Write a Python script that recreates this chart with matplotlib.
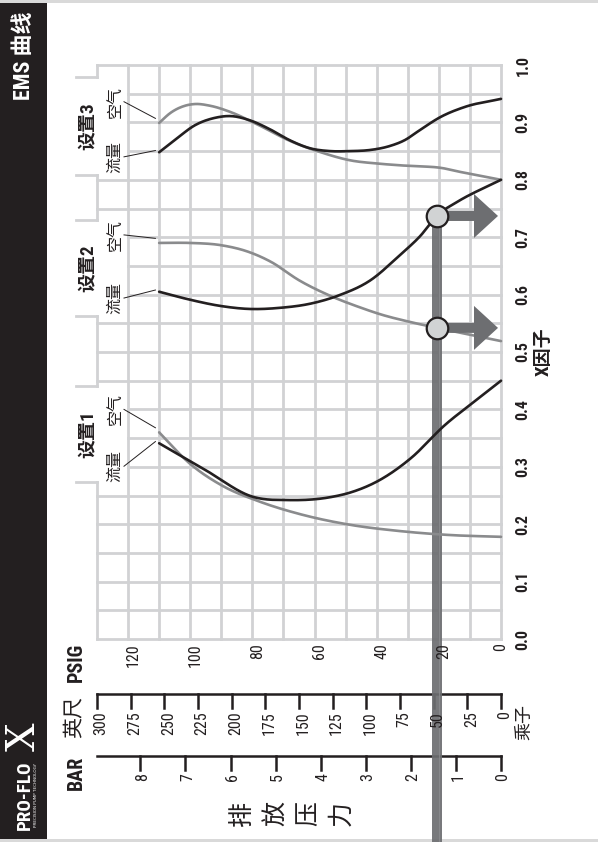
import numpy as np
import matplotlib
matplotlib.use("Agg")
import matplotlib.pyplot as plt
from matplotlib import font_manager as fm
from matplotlib.patches import FancyArrow, Rectangle

# ---------------- data ----------------
x_ticks = [0.0, 0.1, 0.2, 0.3, 0.4, 0.5, 0.6, 0.7, 0.8, 0.9, 1.0]
x_tick_labels = ["0.0", "0.1", "0.2", "0.3", "0.4", "0.5", "0.6", "0.7", "0.8", "0.9", "1.0"]
psig_ticks = [0, 20, 40, 60, 80, 100, 120]
feet_ticks = [0, 25, 50, 75, 100, 125, 150, 175, 200, 225, 250, 275, 300]
bar_ticks = [0, 1, 2, 3, 4, 5, 6, 7, 8]

set_names = ["设置1", "设置2", "设置3"]

set1_flow_psig = [110, 95, 80, 68, 55, 48, 39, 29, 18, 8, 0]
set1_flow_x = [0.341, 0.294, 0.248, 0.242, 0.247, 0.256, 0.277, 0.315, 0.373, 0.416, 0.45]
set1_air_psig = [110, 100, 90, 77.5, 65, 48.6, 32.5, 16, 0]
set1_air_x = [0.36, 0.305, 0.268, 0.239, 0.218, 0.199, 0.188, 0.181, 0.178]

set2_flow_psig = [110, 100, 90, 81, 71, 61.5, 52, 42, 32.5, 26, 20.6, 13, 7, 0]
set2_flow_x = [0.605, 0.591, 0.580, 0.575, 0.577, 0.584, 0.599, 0.625, 0.669, 0.702, 0.737, 0.765, 0.782, 0.80]
set2_air_psig = [110, 100, 90, 81, 74, 65, 55, 45, 39, 29, 20.6, 10, 0]
set2_air_x = [0.69, 0.69, 0.686, 0.674, 0.657, 0.625, 0.598, 0.577, 0.566, 0.552, 0.542, 0.530, 0.519]

set3_flow_psig = [110, 105, 98.5, 92, 87, 81, 74, 68, 61.5, 55, 48.6, 42, 35.7, 31, 26, 19.6, 11.6, 0]
set3_flow_x = [0.848, 0.869, 0.895, 0.908, 0.911, 0.904, 0.887, 0.869, 0.855, 0.850, 0.850, 0.852,
               0.859, 0.869, 0.887, 0.909, 0.927, 0.941]
set3_air_psig = [110, 106.5, 101.7, 98.5, 93.6, 87, 77.5, 68, 58, 48.6, 39, 29, 19.6, 11.6, 0]
set3_air_x = [0.899, 0.916, 0.929, 0.932, 0.929, 0.918, 0.894, 0.868, 0.848, 0.834, 0.828, 0.824,
              0.821, 0.812, 0.80]

marker_psig = 20.6

PSI_PER_FOOT = 130.0 / 300.0
PSI_PER_BAR = 14.5038

# ---------------- fonts ----------------
names = {f.name for f in fm.fontManager.ttflist}
cond_name, cond_stretch = "DejaVu Sans", "normal"
for n in ["Roboto Condensed", "Liberation Sans Narrow", "Open Sans Condensed", "Noto Sans Condensed",
          "DejaVu Sans Condensed"]:
    if n in names:
        cond_name = n
        break
else:
    for f in fm.fontManager.ttflist:
        if "condensed" in str(f.stretch).lower() and f.name in ("DejaVu Sans", "Noto Sans", "Open Sans", "Roboto"):
            cond_name, cond_stretch = f.name, "condensed"
            break
CJK = "Noto Sans CJK SC"
COND = dict(family=[cond_name, CJK, "DejaVu Sans"], fontstretch=cond_stretch)
CJKF = dict(family=[CJK, "DejaVu Sans"])

# ---------------- layout helpers (pixel -> data) ----------------
W, H = 598, 842
GX0, GX1 = 97, 501      # pixel x of PSIG 130 and 0
GY0, GY1 = 639, 65      # pixel y of X 0.0 and 1.0


def fx(px):
    return 130.0 * (GX1 - px) / (GX1 - GX0)


def fy(py):
    return (GY0 - py) / (GY0 - GY1)


def dpx(px):
    return -px * 130.0 / (GX1 - GX0)


def fs(px):
    return px * 0.72


def smooth(p, x, n=400):
    p = np.asarray(p, float)
    x = np.asarray(x, float)
    o = np.argsort(p)
    p, x = p[o], x[o]
    m = np.gradient(x, p)
    pp = np.linspace(p[0], p[-1], n)
    i = np.clip(np.searchsorted(p, pp) - 1, 0, len(p) - 2)
    h = p[i + 1] - p[i]
    t = (pp - p[i]) / h
    h00 = 2 * t**3 - 3 * t**2 + 1
    h10 = t**3 - 2 * t**2 + t
    h01 = -2 * t**3 + 3 * t**2
    h11 = t**3 - t**2
    y = h00 * x[i] + h10 * h * m[i] + h01 * x[i + 1] + h11 * h * m[i + 1]
    return pp, y


BLACK = "#231f20"
GRAYLINE = "#8a8b8d"
GRID = "#d1d2d4"
ARROW = "#6d6e71"

fig = plt.figure(figsize=(W / 100, H / 100), dpi=100)
ax = fig.add_axes([0, 0, 1, 1])
ax.set_xlim(fx(0), fx(W))
ax.set_ylim(fy(H), fy(0))
ax.axis("off")

# page borders and black band
ax.add_patch(Rectangle((fx(0), fy(3)), fx(W) - fx(0), fy(0) - fy(3), color="#d9d9d9", lw=0, zorder=0))
ax.add_patch(Rectangle((fx(0), fy(H)), fx(W) - fx(0), fy(838.5) - fy(H), color="#d9d9d9", lw=0, zorder=0))
ax.add_patch(Rectangle((fx(0), fy(838.5)), fx(47) - fx(0), fy(3) - fy(838.5), color=BLACK, lw=0, zorder=1))

# ---------------- grid with label tabs ----------------
tab_px = [(482, 386), (316, 220), (175, 77)]
tabs = [(fy(a), fy(b)) for a, b in tab_px]
glw = 2.0
for v in np.arange(0, 1.0001, 0.05):
    left = 120 if any(lo < v < hi for lo, hi in tabs) else 130
    ax.plot([left, 0], [v, v], color=GRID, lw=glw, zorder=2, solid_capstyle="projecting")
for p in range(0, 121, 10):
    ax.plot([p, p], [0, 1], color=GRID, lw=glw, zorder=2, solid_capstyle="projecting")
edges = [0.0] + [e for t in tabs for e in t] + [1.0]
for k in range(0, len(edges), 2):
    ax.plot([130, 130], [edges[k], edges[k + 1]], color=GRID, lw=glw, zorder=2, solid_capstyle="projecting")
for lo, hi in tabs:
    for e in (lo, hi):
        ax.plot([fx(76), 130], [e, e], color=GRID, lw=glw, zorder=2, solid_capstyle="projecting")

# ---------------- curves ----------------
sets = [
    (set1_flow_psig, set1_flow_x, set1_air_psig, set1_air_x),
    (set2_flow_psig, set2_flow_x, set2_air_psig, set2_air_x),
    (set3_flow_psig, set3_flow_x, set3_air_psig, set3_air_x),
]
smoothed = []
for fp, fxv, ap, axv in sets:
    a = smooth(ap, axv)
    f = smooth(fp, fxv)
    ax.plot(a[0], a[1], color=GRAYLINE, lw=1.9, zorder=4, solid_capstyle="round")
    ax.plot(f[0], f[1], color=BLACK, lw=1.9, zorder=5, solid_capstyle="round")
    smoothed.append((f, a))

# set labels and leader lines
for i, ((fp, fxv, ap, axv), (lo, hi)) in enumerate(zip(sets, tabs)):
    mid = (lo + hi) / 2
    ax.text(fx(88), mid, set_names[i], rotation=90, ha="center", va="center",
            fontsize=fs(19), fontweight="bold", color=BLACK, zorder=6, **COND)
    air_lab = axv[0] + 0.04 if i == 0 else axv[0] + 0.014 if i == 1 else axv[0] + 0.037
    flow_lab = fxv[0] - 0.04 if i == 0 else fxv[0] - 0.011 if i == 1 else fxv[0] - 0.008
    ax.text(fx(115), air_lab, "空气", rotation=90, ha="center", va="center",
            fontsize=fs(16), color=BLACK, zorder=6, **CJKF)
    ax.text(fx(115), flow_lab, "流量", rotation=90, ha="center", va="center",
            fontsize=fs(16), color=BLACK, zorder=6, **CJKF)
    ax.plot([fx(124), fp[0] + 1.2], [air_lab, axv[0] + 0.008], color=BLACK, lw=0.7, zorder=6)
    ax.plot([fx(124), fp[0] + 1.2], [flow_lab, fxv[0] + 0.003], color=BLACK, lw=0.7, zorder=6)

# ---------------- operating point markers ----------------
f2, a2 = smoothed[1]
mk_upper = float(np.interp(marker_psig, f2[0], f2[1]))
mk_lower = float(np.interp(marker_psig, a2[0], a2[1]))
ax.plot([marker_psig, marker_psig], [mk_upper, fy(H)], color=ARROW, lw=7.2, alpha=0.92,
        solid_capstyle="butt", zorder=3)
ax.plot([marker_psig + dpx(2), marker_psig + dpx(2)], [mk_upper, fy(H)], color="#8f9093", lw=0.6,
        alpha=0.8, zorder=3)
for yv in (mk_upper, mk_lower):
    ax.add_patch(FancyArrow(marker_psig, yv, fx(498) - marker_psig, 0, width=10 / 574,
                            head_width=44 / 574, head_length=fx(474) - fx(498),
                            length_includes_head=True, color=ARROW, lw=0, zorder=6))
ax.plot([marker_psig] * 2, [mk_upper, mk_lower], "o", ms=15.5, mfc="#d1d3d4", mec=BLACK,
        mew=1.6, zorder=8)

# ---------------- X factor axis labels ----------------
for v, lab in zip(x_ticks, x_tick_labels):
    ax.text(fx(523), v, lab, rotation=90, ha="center", va="center", fontsize=fs(16),
            fontweight="bold", color=BLACK, **COND)
ax.text(fx(544), 0.5, "X因子", rotation=90, ha="center", va="center", fontsize=fs(19),
        fontweight="bold", color=BLACK, **COND)

# ---------------- PSIG labels ----------------
for v in psig_ticks:
    off = dpx(5) if v > 0 else 0
    ax.text(v + off, fy(643), str(v), rotation=90, ha="center", va="top", fontsize=fs(16),
            color=BLACK, **COND)
ax.text(fx(76), fy(662), "PSIG", rotation=90, ha="center", va="center", fontsize=fs(20),
        fontweight="bold", color=BLACK, **COND)

# ---------------- feet scale ----------------
ax.plot([130, 0], [fy(694), fy(694)], color=BLACK, lw=1.8, solid_capstyle="projecting", zorder=2)
for v in feet_ticks:
    p = v * PSI_PER_FOOT
    ax.plot([p, p], [fy(694), fy(708)], color=BLACK, lw=1.8, zorder=2)
    ax.text(p + dpx(4), fy(711), str(v), rotation=90, ha="center", va="top", fontsize=fs(16),
            color=BLACK, zorder=5, **COND)
ax.text(fx(74), fy(717), "英尺", rotation=90, ha="center", va="center", fontsize=fs(21),
        color=BLACK, **CJKF)
ax.text(fx(524), fy(722), "乘子", rotation=90, ha="center", va="center", fontsize=fs(18),
        color=BLACK, **CJKF)

# ---------------- bar scale ----------------
ax.plot([130, 0], [fy(756), fy(756)], color=BLACK, lw=1.8, solid_capstyle="projecting", zorder=2)
for v in bar_ticks:
    p = v * PSI_PER_BAR
    ax.plot([p, p], [fy(756), fy(770)], color=BLACK, lw=1.8, zorder=2)
    ax.text(p + dpx(2), fy(773), str(v), rotation=90, ha="center", va="top", fontsize=fs(16),
            color=BLACK, zorder=5, **COND)
ax.text(fx(76), fy(773), "BAR", rotation=90, ha="center", va="center", fontsize=fs(20),
        fontweight="bold", color=BLACK, **COND)

for k, ch in enumerate("排放压力"):
    ax.text(fx(243 + 32.7 * k), fy(813), ch, rotation=90, ha="center", va="center",
            fontsize=fs(25), color=BLACK, **CJKF)

# ---------------- black band texts ----------------
ax.text(fx(24), fy(56), "EMS 曲线", rotation=90, ha="center", va="center", fontsize=fs(22),
        fontweight="bold", color="white", zorder=3, **COND)
ax.text(fx(25), fy(795), "PRO-FLO", rotation=90, ha="center", va="center", fontsize=fs(19),
        fontweight="bold", color="white", zorder=3, **COND)
ax.text(fx(36), fy(795), "PRECISION PUMP TECHNOLOGY", rotation=90, ha="center", va="center",
        fontsize=3.0, color="white", zorder=3, family="DejaVu Sans")
ax.text(fx(24), fy(737), "X", rotation=90, ha="center", va="center", fontsize=fs(40),
        fontweight="light", color="white", zorder=3, family="DejaVu Serif")

fig.savefig("out.png", dpi=100)
